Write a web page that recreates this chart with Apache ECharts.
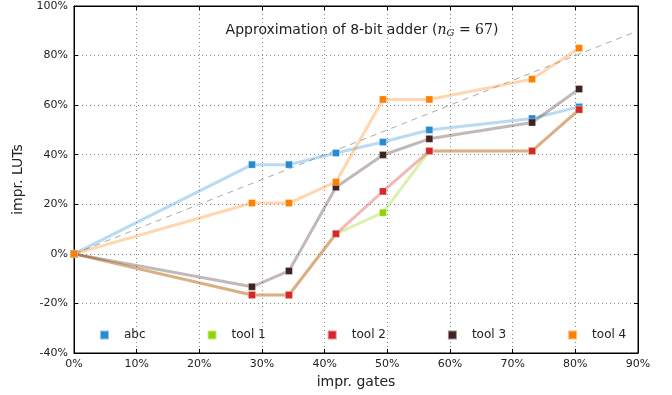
<!DOCTYPE html>
<html>
<head>
<meta charset="utf-8">
<script src="https://cdn.jsdelivr.net/npm/echarts@6/dist/echarts.min.js"></script>
<style>html,body{margin:0;padding:0;background:#fff}#c{width:672px;height:395px}</style>
</head>
<body>
<div id="c"></div>
<script>
// impr. gates (%) for each approximation step
var gates = [0, 28.4, 34.3, 41.8, 49.3, 56.7, 73.1, 80.6];
// impr. LUTs (%) per tool
var abc   = [0, 36.0, 36.0, 40.7, 45.1, 50.0, 54.6, 59.3];
var tool1 = [0, -16.6, -16.6, 8.1, 16.6, 41.5, 41.5, 58.2];
var tool2 = [0, -16.6, -16.6, 8.1, 25.2, 41.5, 41.5, 58.2];
var tool3 = [0, -13.3, -6.9, 26.9, 39.9, 46.4, 53.0, 66.5];
var tool4 = [0, 20.5, 20.5, 29.0, 62.3, 62.3, 70.5, 83.0];
var names = ['abc', 'tool 1', 'tool 2', 'tool 3', 'tool 4'];
var refLine = [0, 90];
var xTicks = [0, 90, 10];
var yTicks = [-40, 100, 20];

var colors = ['#268bd2', '#8fd400', '#d8262a', '#3f2222', '#ff7f00'];
var values = [abc, tool1, tool2, tool3, tool4];
var font = 'DejaVu Sans';

function pairs(xs, ys) { return xs.map(function (x, i) { return [x, ys[i]]; }); }

var series = [{
  type: 'line', name: 'ref', data: pairs(refLine, refLine), showSymbol: false, silent: true,
  lineStyle: { color: '#aaaaaa', width: 1, type: [6, 5] }, z: 1
}];
values.forEach(function (v, i) {
  series.push({
    type: 'line', name: names[i], data: pairs(gates, v),
    symbol: 'rect', symbolSize: 7,
    itemStyle: { color: colors[i], borderColor: 'rgba(255,255,255,0.5)', borderWidth: 0.6, opacity: 1 },
    lineStyle: { color: colors[i], width: 3, opacity: 0.32 },
    z: 2 + i
  });
});

var pct = function (v) { return v + '%'; };
var chart = echarts.init(document.getElementById('c'), null, { renderer: 'canvas' });
chart.setOption({
  animation: false,
  backgroundColor: '#fff',
  title: {
    text: 'Approximation of 8-bit adder ({i|n}{sub|G}{m| = 67})',
    left: 357, top: 17, textAlign: 'center',
    textStyle: {
      fontFamily: font, fontSize: 14, fontWeight: 'normal', color: '#222',
      rich: {
        i: { fontFamily: 'DejaVu Serif', fontStyle: 'italic', fontSize: 14, color: '#222' },
        sub: { fontFamily: 'DejaVu Serif', fontStyle: 'italic', fontSize: 10, color: '#222', padding: [6, 0, 0, 0] },
        m: { fontFamily: 'DejaVu Serif', fontSize: 14, color: '#222' }
      }
    }
  },
  legend: {
    data: names, left: 94, top: 324, icon: 'rect', itemWidth: 9, itemHeight: 9, itemGap: 61,
    textStyle: { fontFamily: font, fontSize: 12, color: '#222', padding: [0, 0, 0, 10] },
    selectedMode: false
  },
  grid: { left: 74, right: 34, top: 6, bottom: 42, show: true, borderColor: '#000', borderWidth: 1, containLabel: false },
  xAxis: [{
    type: 'value', min: xTicks[0], max: xTicks[1], interval: xTicks[2],
    name: 'impr. gates', nameLocation: 'middle', nameGap: 22,
    nameTextStyle: { fontFamily: font, fontSize: 14, color: '#222' },
    axisLine: { show: true, onZero: false, lineStyle: { color: '#000', width: 1 } },
    axisTick: { show: true, inside: true, length: 4, lineStyle: { color: '#000' } },
    axisLabel: { formatter: pct, fontFamily: font, fontSize: 11, color: '#222', margin: 6 },
    splitLine: { show: true, lineStyle: { color: '#888', type: [1, 3], width: 1 } }
  }, {
    type: 'value', position: 'top', min: xTicks[0], max: xTicks[1], interval: xTicks[2],
    axisLine: { show: true, onZero: false, lineStyle: { color: '#000' } },
    axisTick: { show: true, inside: true, length: 4, lineStyle: { color: '#000' } },
    axisLabel: { show: false }, splitLine: { show: false }
  }],
  yAxis: [{
    type: 'value', min: yTicks[0], max: yTicks[1], interval: yTicks[2],
    name: 'impr. LUTs', nameLocation: 'middle', nameGap: 43, nameRotate: 90,
    nameTextStyle: { fontFamily: font, fontSize: 14, color: '#222' },
    axisLine: { show: true, onZero: false, lineStyle: { color: '#000', width: 1 } },
    axisTick: { show: true, inside: true, length: 4, lineStyle: { color: '#000' } },
    axisLabel: { formatter: pct, fontFamily: font, fontSize: 11, color: '#222', margin: 6 },
    splitLine: { show: true, lineStyle: { color: '#888', type: [1, 3], width: 1 } }
  }, {
    type: 'value', position: 'right', min: yTicks[0], max: yTicks[1], interval: yTicks[2],
    axisLine: { show: true, onZero: false, lineStyle: { color: '#000' } },
    axisTick: { show: true, inside: true, length: 4, lineStyle: { color: '#000' } },
    axisLabel: { show: false }, splitLine: { show: false }
  }],
  series: series
});
</script>
</body>
</html>
